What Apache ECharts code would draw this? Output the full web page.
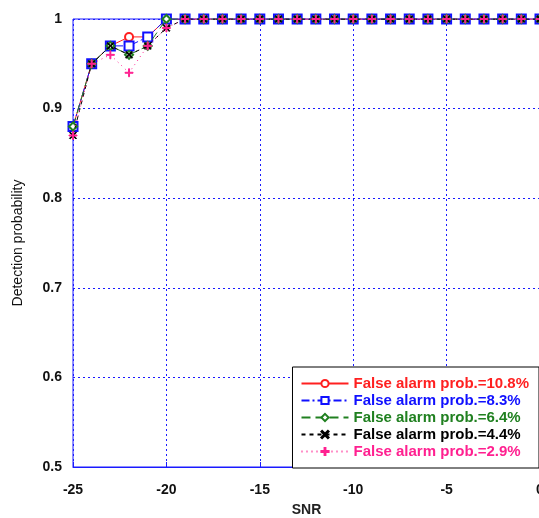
<!DOCTYPE html>
<html><head><meta charset="utf-8">
<script src="https://cdn.jsdelivr.net/npm/echarts@6/dist/echarts.min.js"></script>
<style>html,body{margin:0;padding:0;background:#fff}#c{width:539px;height:518px}</style>
</head><body><div id="c"></div>
<script>
const snr = [-25,-24,-23,-22,-21,-20,-19,-18,-17,-16,-15,-14,-13,-12,-11,-10,-9,-8,-7,-6,-5,-4,-3,-2,-1,0];
const pd108 = [0.88,0.95,0.97,0.98,0.98,1,1,1,1,1,1,1,1,1,1,1,1,1,1,1,1,1,1,1,1,1];
const pd083 = [0.88,0.95,0.97,0.97,0.98,1,1,1,1,1,1,1,1,1,1,1,1,1,1,1,1,1,1,1,1,1];
const pd064 = [0.88,0.95,0.97,0.96,0.97,1,1,1,1,1,1,1,1,1,1,1,1,1,1,1,1,1,1,1,1,1];
const pd044 = [0.87,0.95,0.97,0.96,0.97,0.99,1,1,1,1,1,1,1,1,1,1,1,1,1,1,1,1,1,1,1,1];
const pd029 = [0.87,0.95,0.96,0.94,0.97,0.99,1,1,1,1,1,1,1,1,1,1,1,1,1,1,1,1,1,1,1,1];
const names = ['False alarm prob.=10.8%','False alarm prob.=8.3%','False alarm prob.=6.4%','False alarm prob.=4.4%','False alarm prob.=2.9%'];
const colors = ['#ff2020','#1010ff','#208020','#000000','#ff2090'];
const allData = [pd108, pd083, pd064, pd044, pd029];

const xSym = 'path://M0,1 L1,0 L5,4 L9,0 L10,1 L6,5 L10,9 L9,10 L5,6 L1,10 L0,9 L4,5Z';
const plusSym = 'path://M4.4,0 H5.6 V4.4 H10 V5.6 H5.6 V10 H4.4 V5.6 H0 V4.4 H4.4Z';
const symbols = ['emptyCircle','emptyRect','emptyDiamond',xSym,plusSym];
const symSizes = [8,9,8,7,8];
const dashes = ['solid',[8,3,2,3],[9,5],[4,4],[1,4]];

const chart = echarts.init(document.getElementById('c'), null, {renderer:'canvas'});
const blue = '#1a1aff';
const font = 'Liberation Sans, Arial, sans-serif';
chart.setOption({
  animation:false,
  backgroundColor:'#fff',
  grid:{left:73, top:19, width:467, height:448, show:true, borderColor:blue, borderWidth:1,
    backgroundColor:'transparent', containLabel:false, outerBoundsMode:'none'},
  xAxis:{type:'value', min:-25, max:0, interval:5,
    name:'SNR', nameLocation:'middle', nameGap:36,
    nameTextStyle:{fontFamily:font, fontSize:14, fontWeight:'bold', color:'#222'},
    axisLine:{show:true, lineStyle:{color:blue, width:1}},
    axisTick:{show:true, inside:true, length:5, lineStyle:{color:blue}},
    axisLabel:{fontFamily:font, fontSize:14, fontWeight:'bold', color:'#111', margin:16},
    splitLine:{show:true, lineStyle:{color:blue, type:[2,3], width:1}}
  },
  yAxis:{type:'value', min:0.5, max:1, interval:0.1,
    name:'Detection probability', nameLocation:'middle', nameGap:48,
    nameTextStyle:{fontFamily:font, fontSize:14, color:'#111'},
    axisLine:{show:true, lineStyle:{color:blue, width:1}},
    axisTick:{show:true, inside:true, length:5, lineStyle:{color:blue}},
    axisLabel:{fontFamily:font, fontSize:14, fontWeight:'bold', color:'#111', margin:11,
      formatter:v=>String(Math.round(v*10)/10)},
    splitLine:{show:true, lineStyle:{color:blue, type:[2,3], width:1}}
  },
  legend:{orient:'vertical', right:0, bottom:50, padding:[9,10,9,8], itemGap:2,
    itemWidth:47, itemHeight:9, borderColor:'#000', borderWidth:1, backgroundColor:'#fff',
    borderRadius:0,
    textStyle:{fontFamily:font, fontSize:15, fontWeight:'bold'},
    data:names.map((n,i)=>({name:n, textStyle:{color:colors[i]}}))
  },
  series:names.map((n,i)=>({
    name:n, type:'line',
    data:snr.map((x,j)=>[x, allData[i][j]]),
    symbol:symbols[i], symbolSize:symSizes[i], showAllSymbol:true,
    itemStyle:{color:colors[i], borderColor:colors[i], borderWidth:1},
    lineStyle:{color:colors[i], width:1, type:dashes[i]},
    z:2+i
  }))
});
</script></body></html>
